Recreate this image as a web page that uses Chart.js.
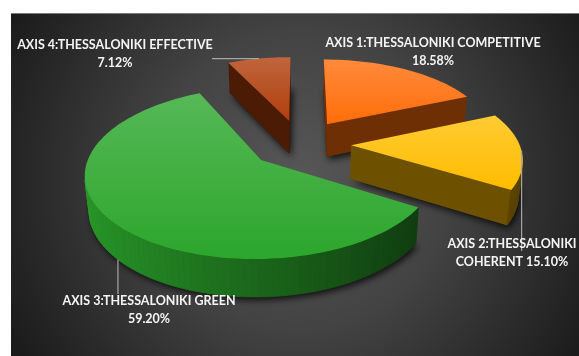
<!DOCTYPE html>
<html>
<head>
<meta charset="utf-8">
<script src="https://cdn.jsdelivr.net/npm/chart.js@4.4.1/dist/chart.umd.min.js"></script>
<style>
  html, body { margin: 0; padding: 0; background: #fff; }
  #wrap { width: 579px; height: 356px; }
</style>
</head>
<body>
<div id="wrap"><canvas id="pie" width="579" height="356"></canvas></div>
<script>
// chart data
const categories = [
  'AXIS 1:THESSALONIKI COMPETITIVE',
  'AXIS 2:THESSALONIKI COHERENT',
  'AXIS 3:THESSALONIKI GREEN',
  'AXIS 4:THESSALONIKI EFFECTIVE'
];
const shares = [18.58, 15.10, 59.20, 7.12];
const sliceColors = ['#ff6d0a', '#ffbd00', '#2ca62c', '#b03f0c'];

// label placement (centre of first line, wrap width, leader line)
const labelLayout = [
  { x: 433, y: 43, w: 228, leader: null },
  { x: 512, y: 244, w: 142, leader: { from: 'top', dir: 'v', to: 251 } },
  { x: 149, y: 301, w: 190, leader: { from: 'base', dir: 'v', to: 294 } },
  { x: 115, y: 45, w: 205, leader: { from: 'top', dir: 'h', to: 212 } }
];

// fake 3D: tilt, camera distance, slice thickness
const TILT = Math.PI / 6;
const SIN = Math.sin(TILT), COS = Math.cos(TILT);
const CAM = 1000;
const DEPTH = 38;

function rgb(hex) {
  const n = parseInt(hex.slice(1), 16);
  return [(n >> 16) & 255, (n >> 8) & 255, n & 255];
}
function shade(hex, k) {
  const c = rgb(hex).map(v => Math.round(Math.min(255, v * k)));
  return `rgb(${c[0]},${c[1]},${c[2]})`;
}
function lighten(hex, t) {
  const c = rgb(hex).map(v => Math.round(v + (255 - v) * t));
  return `rgb(${c[0]},${c[1]},${c[2]})`;
}

function sliceGeom(arc) {
  const p = arc.getProps(['x', 'y', 'startAngle', 'endAngle', 'outerRadius'], true);
  const off = arc.options.offset || 0;
  const mid = (p.startAngle + p.endAngle) / 2;
  return {
    cx: p.x, cy: p.y, a0: p.startAngle, a1: p.endAngle, r: p.outerRadius, mid,
    ox: off * Math.cos(mid), od: -off * Math.sin(mid)
  };
}
function proj(g, xw, dw, h) {
  const z = CAM + dw * COS - h * SIN;
  const f = CAM / z;
  return [g.cx + xw * f, g.cy - (dw * SIN + h * COS) * f];
}
function rim(g, a, h) {
  return proj(g, g.ox + g.r * Math.cos(a), g.od - g.r * Math.sin(a), h);
}
function facesCamera(px, pd, nx, nd) {
  return -px * nx + (-CAM * COS - pd) * nd > 0;
}
function poly(ctx, pts) {
  ctx.beginPath();
  ctx.moveTo(pts[0][0], pts[0][1]);
  for (let i = 1; i < pts.length; i++) ctx.lineTo(pts[i][0], pts[i][1]);
  ctx.closePath();
}

function drawSlice(ctx, g, base) {
  const steps = Math.max(2, Math.ceil((g.a1 - g.a0) / (Math.PI / 90)));
  const angles = [];
  for (let i = 0; i <= steps; i++) angles.push(g.a0 + (g.a1 - g.a0) * i / steps);

  // drop shadow under the base
  ctx.save();
  ctx.shadowColor = 'rgba(0,0,0,0.8)';
  ctx.shadowBlur = 7;
  ctx.shadowOffsetX = 2;
  ctx.shadowOffsetY = 3;
  ctx.fillStyle = shade(base, 0.3);
  poly(ctx, [proj(g, g.ox, g.od, 0)].concat(angles.map(a => rim(g, a, 0))));
  ctx.fill();
  ctx.restore();

  // cut faces
  [[g.a0, g.a0 - Math.PI / 2], [g.a1, g.a1 + Math.PI / 2]].forEach(([a, n]) => {
    const nx = Math.cos(n), nd = -Math.sin(n);
    const mx = g.ox + 0.5 * g.r * Math.cos(a), md = g.od - 0.5 * g.r * Math.sin(a);
    if (!facesCamera(mx, md, nx, nd)) return;
    ctx.fillStyle = shade(base, 0.43);
    poly(ctx, [proj(g, g.ox, g.od, 0), proj(g, g.ox, g.od, DEPTH), rim(g, a, DEPTH), rim(g, a, 0)]);
    ctx.fill();
  });

  // outer wall
  for (let i = 0; i < steps; i++) {
    const a = angles[i], b = angles[i + 1], m = (a + b) / 2;
    const nx = Math.cos(m), nd = -Math.sin(m);
    const px = g.ox + g.r * nx, pd = g.od + g.r * nd;
    if (!facesCamera(px, pd, nx, nd)) continue;
    const col = shade(base, 0.62 - 0.3 * nx);
    ctx.fillStyle = col;
    ctx.strokeStyle = col;
    ctx.lineWidth = 0.8;
    poly(ctx, [rim(g, a, 0), rim(g, a, DEPTH), rim(g, b, DEPTH), rim(g, b, 0)]);
    ctx.fill();
    ctx.stroke();
  }

  // top face
  const top = [proj(g, g.ox, g.od, DEPTH)].concat(angles.map(a => rim(g, a, DEPTH)));
  const ys = top.map(p => p[1]);
  const grad = ctx.createLinearGradient(0, Math.min(...ys), 0, Math.max(...ys));
  grad.addColorStop(0, lighten(base, 0.2));
  grad.addColorStop(1, base);
  ctx.fillStyle = grad;
  poly(ctx, top);
  ctx.fill();
}

function wrapText(ctx, text, maxW) {
  const words = text.split(' ');
  const lines = [];
  let line = '';
  words.forEach(w => {
    const t = line ? line + ' ' + w : w;
    if (line && ctx.measureText(t).width > maxW) { lines.push(line); line = w; }
    else line = t;
  });
  lines.push(line);
  return lines;
}

const pie3d = {
  id: 'pie3d',
  beforeDraw(chart) {
    const { ctx, width, height } = chart;
    ctx.save();
    ctx.fillStyle = '#ffffff';
    ctx.fillRect(0, 0, width, height);
    const bg = ctx.createRadialGradient(300, 180, 0, 300, 180, 330);
    bg.addColorStop(0, '#575757');
    bg.addColorStop(0.45, '#434343');
    bg.addColorStop(1, '#1b1b1b');
    ctx.fillStyle = bg;
    ctx.fillRect(11, 13, width - 11, height - 13);
    ctx.strokeStyle = '#7a7a7a';
    ctx.lineWidth = 1;
    ctx.beginPath();
    ctx.moveTo(11, 13.5);
    ctx.lineTo(width, 13.5);
    ctx.stroke();
    ctx.restore();
  },
  beforeDatasetsDraw(chart) {
    const ctx = chart.ctx;
    const arcs = chart.getDatasetMeta(0).data;
    const geoms = arcs.map(sliceGeom);
    const order = geoms.map((g, i) => i).sort((i, j) => geoms[j].od - geoms[i].od);
    ctx.save();
    order.forEach(i => drawSlice(ctx, geoms[i], sliceColors[i]));
    ctx.restore();
    return false;
  },
  afterDraw(chart) {
    const ctx = chart.ctx;
    const arcs = chart.getDatasetMeta(0).data;
    ctx.save();
    ctx.font = 'bold 12.5px Lato';
    arcs.forEach((arc, i) => {
      const L = labelLayout[i];
      const g = sliceGeom(arc);
      if (L.leader) {
        const p = rim(g, g.mid, L.leader.from === 'top' ? DEPTH : 0);
        ctx.strokeStyle = '#a6a6a6';
        ctx.lineWidth = 1.2;
        ctx.beginPath();
        ctx.moveTo(p[0], p[1]);
        if (L.leader.dir === 'v') ctx.lineTo(p[0], L.leader.to);
        else ctx.lineTo(L.leader.to, p[1]);
        ctx.stroke();
      }
      const lines = wrapText(ctx, categories[i] + ' ' + shares[i].toFixed(2) + '%', L.w);
      ctx.fillStyle = '#f4f4f4';
      ctx.textAlign = 'center';
      ctx.textBaseline = 'middle';
      lines.forEach((ln, k) => ctx.fillText(ln, L.x, L.y + k * 18));
    });
    ctx.restore();
  }
};

new Chart(document.getElementById('pie'), {
  type: 'pie',
  data: {
    labels: categories,
    datasets: [{
      data: shares,
      backgroundColor: sliceColors,
      borderWidth: 0,
      offset: 50,
      radius: 165
    }]
  },
  options: {
    responsive: false,
    animation: false,
    layout: { padding: { left: 21, right: 0, top: 0, bottom: 2 } },
    plugins: {
      legend: { display: false },
      tooltip: { enabled: false }
    }
  },
  plugins: [pie3d]
});
</script>
</body>
</html>
